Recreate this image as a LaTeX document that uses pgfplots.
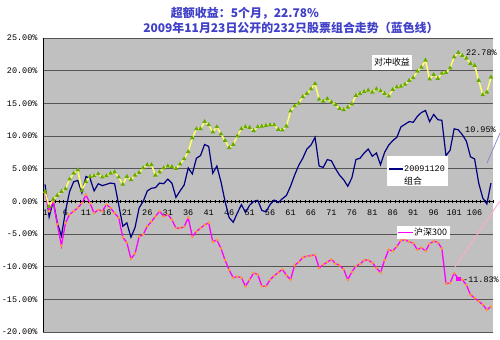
\documentclass[border=0pt]{standalone}
\usepackage{fontspec}
\usepackage{pgfplots}
\usepackage{pgfplotstable}
\pgfplotsset{compat=1.18}
\newfontfamily\cjk{Noto Sans CJK SC}
\newfontfamily\mono{Liberation Mono}
\definecolor{bggray}{RGB}{192,192,192}
\definecolor{gridc}{RGB}{85,85,85}
\definecolor{hedge}{RGB}{255,255,102}
\definecolor{hedgemk}{RGB}{102,170,0}
\definecolor{navyc}{RGB}{0,0,128}
\definecolor{pinkc}{RGB}{255,0,255}
\definecolor{pinkmk}{RGB}{255,153,51}
\definecolor{titlec}{RGB}{64,64,200}

\pgfplotstableread{
i hedge port hs
1 1.5 2.6 1.3
2 -0.8 -2.4 -1.5
3 0.3 0.0 0.0
4 0.9 -3.3 -3.5
5 1.5 -5.3 -6.8
6 1.9 -1.5 -3.3
7 3.4 1.5 -2.0
8 4.3 3.0 -1.5
9 4.8 3.2 -1.0
10 1.7 1.3 -0.3
11 3.0 3.8 1.0
12 3.8 3.5 -0.3
13 3.9 1.6 -1.8
14 4.2 2.7 -1.3
15 3.7 2.4 -1.5
16 3.9 2.6 -0.5
17 4.3 2.8 -1.0
18 4.5 2.7 -1.8
19 3.7 -0.5 -2.5
20 2.6 -3.8 -5.5
21 3.8 -3.3 -6.3
22 3.3 -5.5 -8.8
23 4.0 -4.0 -8.0
24 4.4 -1.0 -5.4
25 5.1 0.0 -5.1
26 5.6 1.6 -3.8
27 5.6 2.0 -3.1
28 4.0 2.1 -2.3
29 4.5 2.8 -1.5
30 5.1 2.7 -2.3
31 5.4 3.4 -2.0
32 5.3 2.8 -2.8
33 5.0 0.6 -4.1
34 5.7 1.6 -4.1
35 6.5 2.5 -3.9
36 7.6 5.1 -2.5
37 9.7 4.2 -5.4
38 11.1 6.6 -4.6
39 11.1 7.0 -4.1
40 12.2 8.7 -3.6
41 11.7 8.4 -3.3
42 10.6 4.3 -6.2
43 11.4 5.4 -5.9
44 10.3 3.0 -7.2
45 9.3 0.0 -9.0
46 8.2 -2.5 -10.5
47 8.7 -3.2 -11.7
48 10.0 -1.8 -11.5
49 11.1 -0.5 -11.7
50 11.4 -1.7 -13.0
51 11.3 -0.6 -12.0
52 10.8 0.0 -10.95
53 11.4 0.15 -11.2
54 11.5 -1.4 -13.0
55 11.6 -1.6 -13.0
56 11.7 -0.5 -12.0
57 11.7 0.2 -11.4
58 11.0 -0.2 -10.9
59 10.9 0.4 -10.4
60 11.5 0.9 -11.3
61 13.8 2.3 -12.0
62 14.6 4.0 -9.8
63 15.0 5.5 -9.3
64 16.0 6.6 -8.6
65 16.5 8.0 -8.4
66 17.2 8.6 -8.3
67 18.0 9.8 -8.2
68 15.6 5.4 -10.2
69 15.3 5.2 -9.7
70 15.7 6.4 -9.3
71 15.2 6.2 -8.9
72 14.8 5.0 -9.5
73 14.2 4.0 -9.8
74 14.0 3.3 -10.4
75 14.4 2.3 -12.0
76 14.9 3.6 -10.8
77 16.2 6.4 -9.9
78 16.5 6.6 -9.6
79 16.8 7.4 -9.0
80 17.0 8.0 -9.0
81 16.7 6.9 -9.4
82 17.2 7.4 -10.2
83 16.9 5.6 -10.9
84 16.5 7.5 -9.0
85 16.1 8.6 -7.4
86 17.1 9.3 -7.6
87 17.5 9.8 -6.9
88 17.6 11.4 -6.0
89 17.9 11.8 -5.9
90 18.5 12.2 -6.2
91 18.9 12.1 -6.4
92 19.9 13.0 -7.4
93 20.5 13.6 -7.1
94 21.6 13.9 -7.6
95 18.7 12.2 -6.5
96 19.4 13.3 -6.1
97 18.8 12.5 -6.3
98 19.6 12.4 -7.2
99 19.7 7.0 -12.6
100 20.4 7.8 -12.5
101 22.1 11.1 -11.0
102 22.78 10.95 -11.83
103 22.3 10.2 -12.0
104 21.9 9.2 -12.8
105 21.1 6.8 -14.3
106 20.8 6.5 -14.8
107 18.5 2.8 -15.3
108 16.3 0.5 -15.8
109 16.7 -0.4 -16.6
110 19.0 2.8 -16.1
}\datatable

\begin{document}
\begin{tikzpicture}[x=1bp,y=1bp]
\path[use as bounding box, fill=white] (0,0) rectangle (500,339);
\fill[bggray] (43,7) rectangle (493,301);
\begin{axis}[
  at={(43bp,7bp)}, anchor=south west,
  scale only axis, width=450bp, height=294bp,
  xmin=0.5, xmax=110.5, ymin=-20, ymax=25,
  axis x line*=middle, axis y line*=left,
  hide obscured y ticks=false,
  axis line style={black, line width=0.8pt},
  ymajorgrids, grid style={gridc, line width=0.9pt},
  ytick={-20,-15,...,25},
  yticklabels={-20.00\%,-15.00\%,-10.00\%,-5.00\%,0.00\%,5.00\%,10.00\%,15.00\%,20.00\%,25.00\%},
  y tick style={draw=none},
  xtick={1,6,...,106},
  minor xtick={0.5,1.5,...,110.5},
  tick align=center,
  major tick length=0pt,
  minor tick length=3.5bp,
  x tick style={draw=none},
  minor x tick style={black, line width=0.5pt, draw=black},
  /pgf/number format/assume math mode=true,
  y tick label style={font=\mono\fontsize{8.5}{10}\selectfont, xshift=-2bp},
  x tick label style={font=\mono\fontsize{8.5}{10}\selectfont, yshift=-5bp, fill=none},
  clip=false,
]
\addplot[navyc, line width=1.2pt, no markers] table[x=i, y=port] {\datatable};
\addplot[pinkc, line width=1.3pt, mark=*, mark size=0.6pt, mark options={fill=pinkmk, draw=pinkmk}] table[x=i, y=hs] {\datatable};
\addplot[hedge, line width=1.5pt, mark=triangle*, mark size=1.15pt, mark options={fill=hedgemk, draw=hedgemk}] table[x=i, y=hedge] {\datatable};
\addplot[only marks, mark=square*, mark size=1.6pt, pinkc] coordinates {(102,-11.83)};
\end{axis}
% titles
\node[font=\cjk\bfseries\fontsize{12}{14}\selectfont, text=titlec] at (245,326) {超额收益：5个月，22.78\%};
\node[font=\cjk\bfseries\fontsize{12}{14}\selectfont, text=titlec] at (291,311) {2009年11月23日公开的232只股票组合走势（蓝色线）};
% data labels
\node[anchor=west, inner sep=0, font=\mono\fontsize{8.5}{10}\selectfont] at (466,286) {22.78\%};
\node[anchor=west, inner sep=0, font=\mono\fontsize{8.5}{10}\selectfont] at (465,209) {10.95\%};
\node[anchor=west, inner sep=0, font=\mono\fontsize{8.5}{10}\selectfont] at (463,59) {-11.83\%};
% leader lines
\draw[line width=0.7pt, color={rgb,255:red,130;green,130;blue,210}] (487,176) -- (500,206);
\draw[line width=0.9pt, color={rgb,255:red,255;green,170;blue,205}] (455,72) -- (500,138);
% label boxes
\fill[white] (372,269) rectangle (412,284);
\node[font=\cjk\fontsize{9}{10}\selectfont] at (392,276.5) {对冲收益};
\fill[white] (387,153) rectangle (448,183);
\draw[navyc, line width=1.2pt] (389,170) -- (403,170);
\node[anchor=west, inner sep=0, font=\mono\fontsize{8.5}{10}\selectfont] at (404,170) {20091120};
\node[anchor=west, inner sep=0, font=\cjk\fontsize{9}{10}\selectfont] at (404,158) {组合};
\fill[white] (397,100) rectangle (450,113);
\draw[pinkc, line width=1.2pt] (398,106.5) -- (413,106.5);
\node[anchor=west, inner sep=0, font=\cjk\fontsize{9}{10}\selectfont] at (414,106.5) {沪深300};
\end{tikzpicture}
\end{document}
